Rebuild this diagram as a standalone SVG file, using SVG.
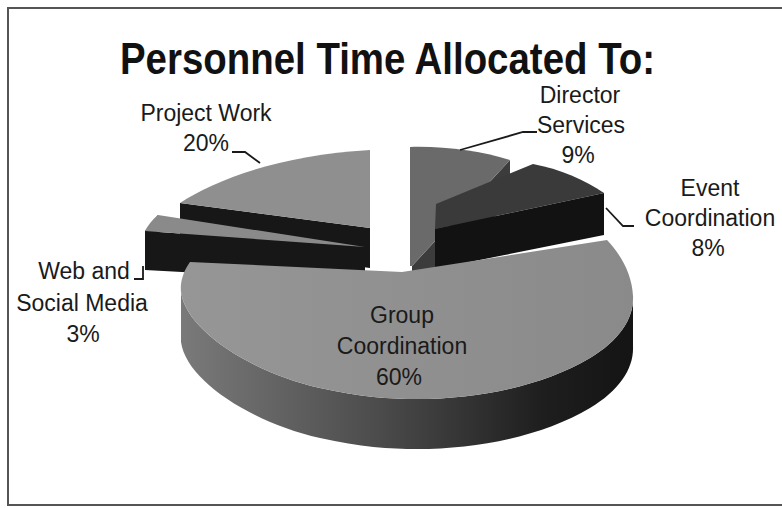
<svg xmlns="http://www.w3.org/2000/svg" width="782" height="508" viewBox="0 0 782 508">
  <defs>
    <linearGradient id="sideGrad" x1="181" y1="0" x2="633" y2="0" gradientUnits="userSpaceOnUse">
      <stop offset="0" stop-color="#7a7a7a"/>
      <stop offset="0.45" stop-color="#4a4a4a"/>
      <stop offset="0.8" stop-color="#1e1e1e"/>
      <stop offset="1" stop-color="#141414"/>
    </linearGradient>
    <linearGradient id="faceGrad" x1="181" y1="0" x2="633" y2="0" gradientUnits="userSpaceOnUse">
      <stop offset="0" stop-color="#969696"/>
      <stop offset="1" stop-color="#8a8a8a"/>
    </linearGradient>
  </defs>
  <style>
    .lbl { font-family: "Liberation Sans", Arial, sans-serif; font-size: 23px; fill: #1a1a1a; text-anchor: middle; }
    .title { font-family: "Liberation Sans", Arial, sans-serif; font-size: 44px; font-weight: bold; fill: #111; }
    .lead { fill: none; stroke: #1a1a1a; stroke-width: 1.8; }
    .dark { fill: #171717; }
    .light { fill: #8f8f8f; }
  </style>
  <rect x="0" y="0" width="782" height="508" fill="#ffffff"/>
  <rect x="8" y="8" width="780" height="497" fill="none" stroke="#555" stroke-width="2"/>

  <text class="title" x="120" y="74" textLength="535" lengthAdjust="spacingAndGlyphs">Personnel Time Allocated To:</text>

  <g id="project-work">
    <path class="dark" d="M 180,203 L 370,228 L 370,268 L 180,243 Z"/>
    <path class="light" d="M 370,228 L 180,203 C 215,180 280,155 370,150 Z"/>
  </g>

  <g id="web-social-media">
    <path class="dark" d="M 145,231 L 365,247 L 365,282 L 145,270 Z"/>
    <path class="dark" d="M 145,231 L 158,215 L 160,230 L 145,240 Z"/>
    <path fill="#8a8a8a" d="M 365,247 L 145,231 C 148,225 152,220 158,215 Z"/>
  </g>

  <g id="director-services">
    <path fill="#3c3c3c" d="M 510,160 L 510,200 L 412,306 L 412,266 Z"/>
    <path fill="#6a6a6a" d="M 410,147 C 445,146 480,151 510,160 L 412,266 L 410,266 Z"/>
  </g>

  <g id="event-coordination">
    <path fill="#3a3a3a" d="M 435,229 L 436,204 L 533,164 C 560,169 585,180 604,193 Z"/>
    <path fill="#121212" d="M 435,229 L 604,193 L 604,235 L 435,269 Z"/>
  </g>

  <g id="group-coordination">
    <path fill="url(#sideGrad)" d="M 181,292 C 186,330 250,372 320,388 C 360,397 390,399 417,399 C 480,399 545,385 590,358 C 620,340 634,318 633,296 L 633,346 C 634,368 620,390 590,408 C 545,435 480,449 417,449 C 390,449 360,447 320,438 C 250,422 186,380 181,342 Z"/>
    <path fill="url(#faceGrad)" d="M 402,272 L 190,262 C 183,272 180,282 181,292 C 186,330 250,372 320,388 C 360,397 390,399 417,399 C 480,399 545,385 590,358 C 620,340 634,318 633,296 C 632,275 622,256 607,240 Z"/>
  </g>

  <g id="connectors">
    <path class="lead" d="M 232,152 L 245,152 L 260,163"/>
    <path class="lead" d="M 537,132 L 523,132 L 460,150"/>
    <path class="lead" d="M 606,208 L 623,226 L 634,226"/>
    <path class="lead" d="M 134,279 L 143,279 L 143,266"/>
  </g>

  <g id="labels">
    <text class="lbl" x="206" y="121">Project Work</text>
    <text class="lbl" x="206" y="151">20%</text>
    <text class="lbl" x="580" y="103">Director</text>
    <text class="lbl" x="581" y="133">Services</text>
    <text class="lbl" x="578" y="163">9%</text>
    <text class="lbl" x="710" y="196">Event</text>
    <text class="lbl" x="710" y="226">Coordination</text>
    <text class="lbl" x="708" y="256">8%</text>
    <text class="lbl" x="84" y="279">Web and</text>
    <text class="lbl" x="82" y="311">Social Media</text>
    <text class="lbl" x="83" y="342">3%</text>
    <text class="lbl" x="402" y="323">Group</text>
    <text class="lbl" x="402" y="354">Coordination</text>
    <text class="lbl" x="399" y="385">60%</text>
  </g>
</svg>
